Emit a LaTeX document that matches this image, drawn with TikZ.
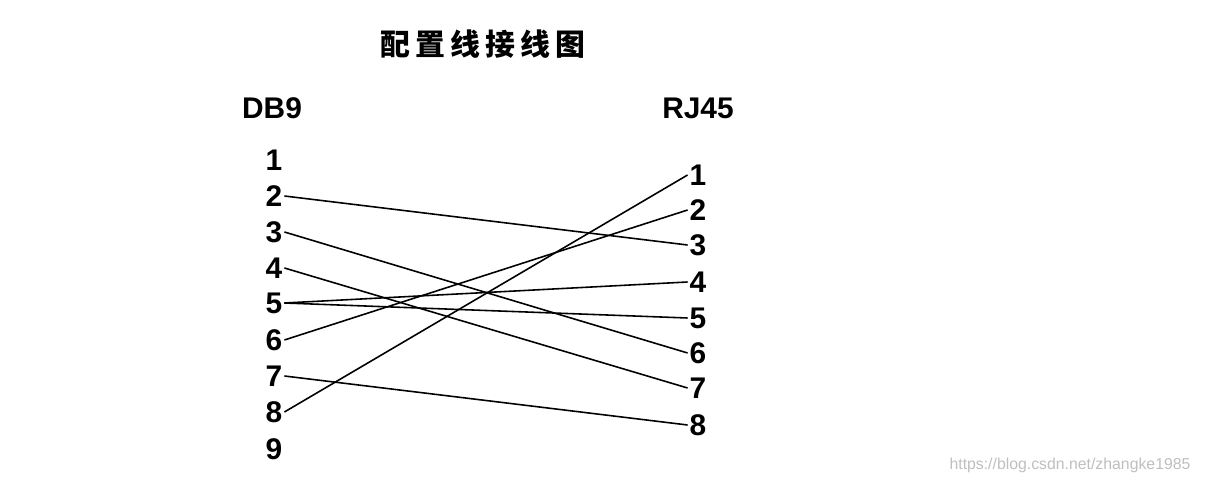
\documentclass[tikz,border=0pt]{standalone}
\usepackage{fontspec}
\setmainfont{Liberation Sans}
\newfontfamily\cjk{Noto Sans CJK SC}
\usetikzlibrary{positioning}
\begin{document}
\begin{tikzpicture}
            [
            x=0.02cm, y=-0.02cm,
            pin/.style={font=\bfseries\fontsize{17}{17}\selectfont, inner sep=1pt},
            head/.style={font=\bfseries\fontsize{17}{17}\selectfont},
            wire/.style={black, line width=0.9pt}
            ]
            \useasboundingbox (0,0) rectangle (1207,482);

            \node (title) at (483,44) {\cjk\bfseries\fontsize{17}{17}\selectfont 配\,置\,线\,接\,线\,图};
            \node (db9) [head] at (272,108) {DB9};
            \node (rj45) [head] at (698,108) {RJ45};

            % DB9 pins
            \foreach \i/\y in {1/160,2/196,3/232,4/268,5/303,6/340,7/376,8/412,9/449}{
                \node (l\i) [pin] at (274,\y) {\i};
            }
            % RJ45 pins
            \foreach \i/\y in {1/175,2/210,3/245,4/282,5/318,6/353,7/388,8/425}{
                \node (r\i) [pin] at (698,\y) {\i};
            }

            \foreach \a/\b in {2/3,3/6,4/7,5/4,5/5,6/2,7/8,8/1}{
                \draw [wire] (l\a.east) -- (r\b.west);
            }

            \node (mark) [text=black!25, font=\fontsize{9}{9}\selectfont] at (1070,465) {https://blog.csdn.net/zhangke1985};
\end{tikzpicture}
\end{document}
